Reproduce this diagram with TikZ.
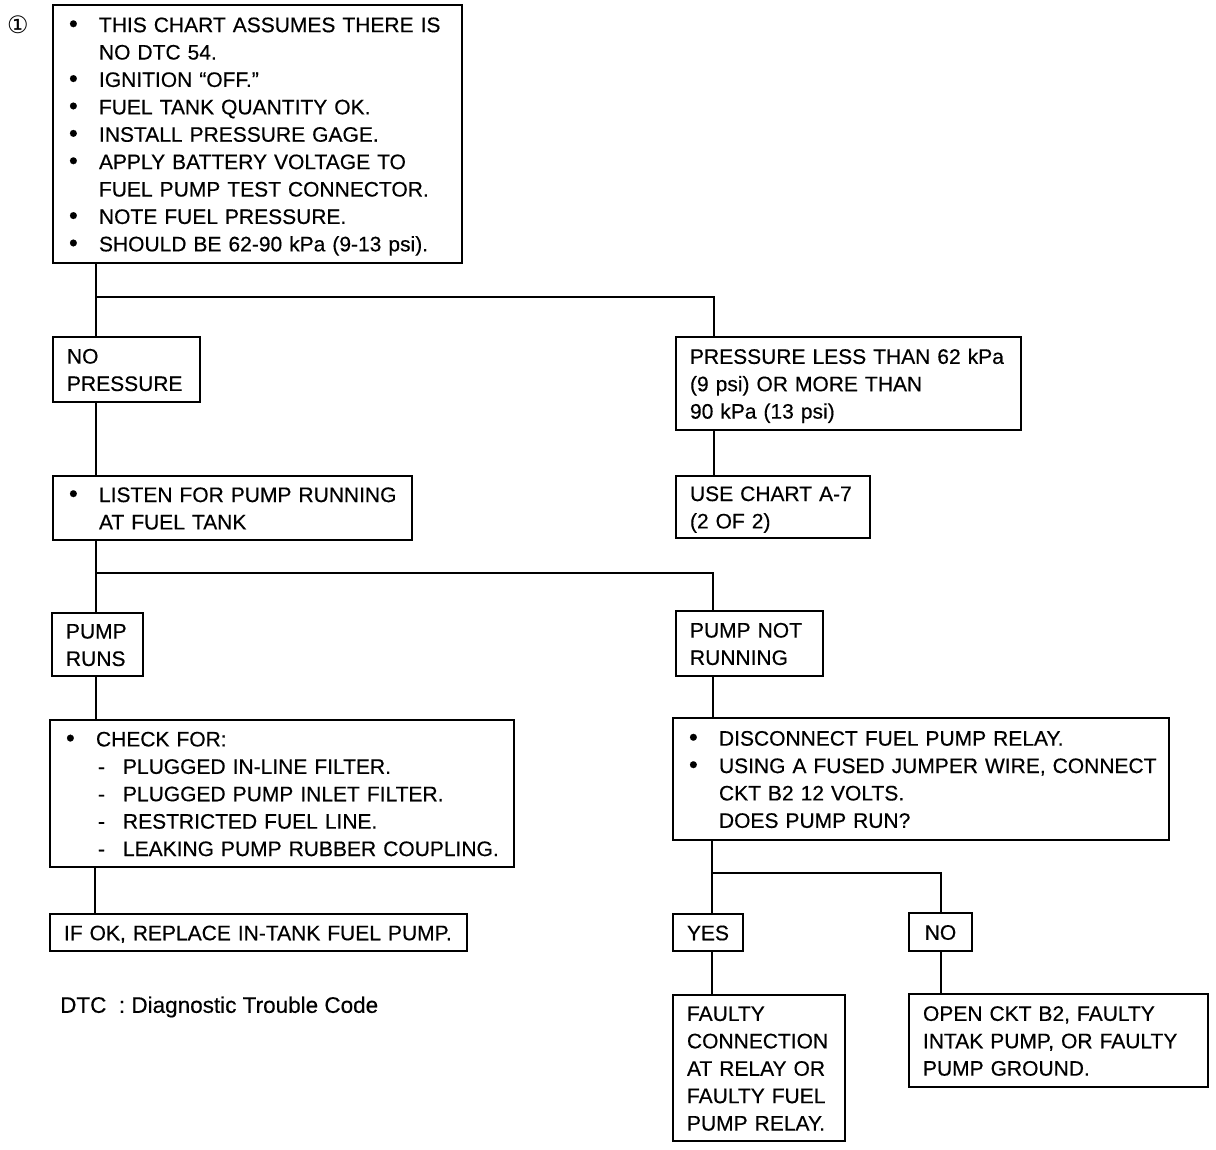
\documentclass[tikz,border=0pt]{standalone}
\usepackage{fontspec}
\usepackage{graphicx}
\setmainfont{Liberation Sans}[FakeBold=0.4]
\newfontfamily\dejavu{DejaVu Sans}
\newcommand{\bitem}[1]{\mbox{\makebox[32pt][l]{\hspace{2pt}\scalebox{1.2}{•}}#1}}
\newcommand{\citem}[1]{\mbox{\hspace*{32pt}#1}}
\newcommand{\ditem}[1]{\mbox{\makebox[59pt][l]{\hspace{34pt}-}#1}}
\newcommand{\pitem}[1]{\mbox{#1}}
\tikzset{
  box/.style={draw, line width=1.6pt, inner xsep=14pt, inner ysep=0pt, align=left,
    font=\fontsize{21}{27.4}\selectfont,
    execute at begin node={\rule{0pt}{20.5pt}},
    execute at end node={\rule[-5pt]{0pt}{5pt}}},
  cbox/.style={box, align=center},
  conn/.style={line width=1.6pt},
  note/.style={inner sep=0pt, anchor=west, font=\fontsize{22.5}{26}\selectfont},
}
\begin{document}
\begin{tikzpicture}[x={(1pt,0)}, y={(0,-1pt)}]
\useasboundingbox (0,0) rectangle (1216,1150);

\node[inner sep=0pt, font=\dejavu\fontsize{24}{24}\selectfont] (num) at (18,25) {①};

\node[box, minimum width=409pt, minimum height=258pt, text width=381pt] (top) at (257.5,134)
 {\bitem{THIS CHART ASSUMES THERE IS}\\
  \citem{NO DTC 54.}\\
  \bitem{IGNITION “OFF.”}\\
  \bitem{FUEL TANK QUANTITY OK.}\\
  \bitem{INSTALL PRESSURE GAGE.}\\
  \bitem{APPLY BATTERY VOLTAGE TO}\\
  \citem{FUEL PUMP TEST CONNECTOR.}\\
  \bitem{NOTE FUEL PRESSURE.}\\
  \bitem{SHOULD BE 62-90 kPa (9-13 psi).}};

\node[box, minimum width=147pt, minimum height=65pt, text width=119pt] (nop) at (126.5,369.5)
 {\pitem{NO}\\\pitem{PRESSURE}};

\node[box, minimum width=345pt, minimum height=93pt, text width=317pt] (pls) at (848.5,383.5)
 {\pitem{PRESSURE LESS THAN 62 kPa}\\\pitem{(9 psi) OR MORE THAN}\\\pitem{90 kPa (13 psi)}};

\node[box, minimum width=194pt, minimum height=62pt, text width=166pt] (use) at (773,507)
 {\pitem{USE CHART A-7}\\\pitem{(2 OF 2)}};

\node[box, minimum width=359pt, minimum height=64pt, text width=331pt] (lis) at (232.5,508)
 {\bitem{LISTEN FOR PUMP RUNNING}\\\citem{AT FUEL TANK}};

\node[box, minimum width=91pt, minimum height=63pt, text width=63pt] (runs) at (97.5,644.5)
 {\pitem{PUMP}\\\pitem{RUNS}};

\node[box, minimum width=147pt, minimum height=65pt, text width=119pt] (pnr) at (749.5,643.5)
 {\pitem{PUMP NOT}\\\pitem{RUNNING}};

\node[box, minimum width=464pt, minimum height=147pt, text width=436pt] (chk) at (282,793.5)
 {\bitem{CHECK FOR:}\\
  \ditem{PLUGGED IN-LINE FILTER.}\\
  \ditem{PLUGGED PUMP INLET FILTER.}\\
  \ditem{RESTRICTED FUEL LINE.}\\
  \ditem{LEAKING PUMP RUBBER COUPLING.}};

\node[box, minimum width=417pt, minimum height=37pt, text width=389pt] (ifok) at (258.5,932.5)
 {\pitem{IF OK, REPLACE IN-TANK FUEL PUMP.}};

\node[note] (dtc) at (60,1007) {DTC~~:~Diagnostic Trouble Code};

\node[box, minimum width=496pt, minimum height=122pt, text width=468pt] (dis) at (921,779)
 {\bitem{DISCONNECT FUEL PUMP RELAY.}\\
  \bitem{USING A FUSED JUMPER WIRE, CONNECT}\\
  \citem{CKT B2 12 VOLTS.}\\
  \citem{DOES PUMP RUN?}};

\node[cbox, minimum width=70pt, minimum height=37pt, text width=42pt] (yes) at (708,932.5) {YES};
\node[cbox, minimum width=63pt, minimum height=38pt, text width=35pt] (no) at (940.5,932) {NO};

\node[box, minimum width=172pt, minimum height=146pt, text width=144pt] (fau) at (759,1068)
 {\pitem{FAULTY}\\\pitem{CONNECTION}\\\pitem{AT RELAY OR}\\\pitem{FAULTY FUEL}\\\pitem{PUMP RELAY.}};

\node[box, minimum width=299pt, minimum height=93pt, text width=271pt] (opn) at (1058.5,1040.5)
 {\pitem{OPEN CKT B2, FAULTY}\\\pitem{INTAK PUMP, OR FAULTY}\\\pitem{PUMP GROUND.}};

% junction coordinates
\coordinate (j1) at (96,297);
\coordinate (j1r) at (714,297);
\coordinate (j2) at (96,573);
\coordinate (j2r) at (713,573);
\coordinate (j3) at (712,873);
\coordinate (j3r) at (941,873);
\coordinate (xc) at (95,0);
\coordinate (xp) at (714,0);
\coordinate (xd) at (713,0);

\draw[conn] (top.south -| j1) -- (nop.north -| j1);
\draw[conn] (j1) -- (j1r) -- (pls.north -| j1r);
\draw[conn] (pls.south -| xp) -- (use.north -| xp);
\draw[conn] (nop.south -| j1) -- (lis.north -| j1);
\draw[conn] (lis.south -| j2) -- (runs.north -| j2);
\draw[conn] (j2) -- (j2r) -- (pnr.north -| j2r);
\draw[conn] (runs.south -| j2) -- (chk.north -| j2);
\draw[conn] (chk.south -| xc) -- (ifok.north -| xc);
\draw[conn] (pnr.south -| xd) -- (dis.north -| xd);
\draw[conn] (dis.south -| j3) -- (yes.north -| j3);
\draw[conn] (j3) -- (j3r) -- (no.north -| j3r);
\draw[conn] (yes.south -| j3) -- (fau.north -| j3);
\draw[conn] (no.south -| j3r) -- (opn.north -| j3r);
\end{tikzpicture}
\end{document}
